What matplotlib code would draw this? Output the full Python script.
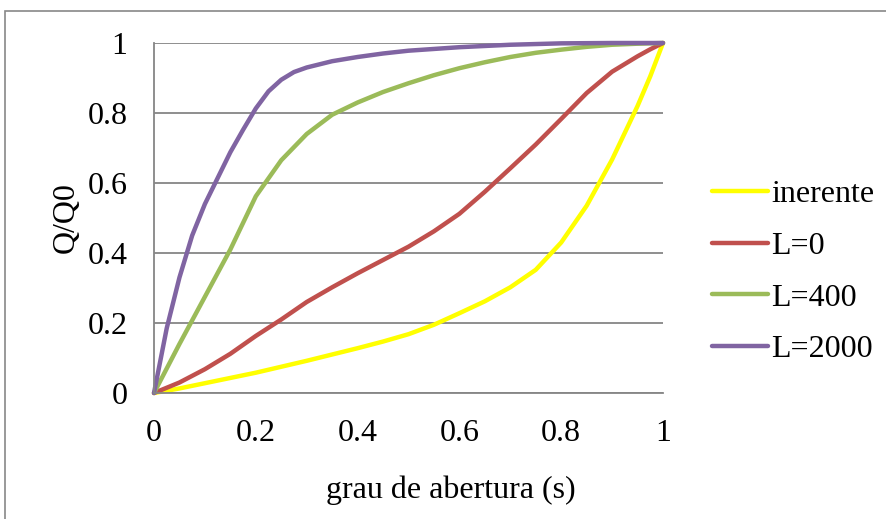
import matplotlib.pyplot as plt
from matplotlib.patches import Rectangle

plt.rcParams['font.family'] = ['Liberation Serif', 'DejaVu Serif']

# valve opening and relative flow
s_main = [0, 0.05, 0.1, 0.15, 0.2, 0.25, 0.3, 0.35, 0.4, 0.45, 0.5,
          0.55, 0.6, 0.65, 0.7, 0.75, 0.8, 0.85, 0.9, 0.95, 0.975, 1.0]
q_inerente = [0, 0.013, 0.028, 0.043, 0.058, 0.075, 0.092, 0.11, 0.128, 0.147, 0.168,
              0.195, 0.228, 0.262, 0.302, 0.352, 0.43, 0.535, 0.667, 0.82, 0.905, 1.0]
q_L0 = [0, 0.03, 0.068, 0.112, 0.163, 0.21, 0.26, 0.302, 0.342, 0.38, 0.418,
        0.462, 0.512, 0.575, 0.642, 0.71, 0.783, 0.857, 0.918, 0.962, 0.982, 1.0]
q_L400 = [0, 0.14, 0.275, 0.41, 0.562, 0.665, 0.74, 0.795, 0.83, 0.86, 0.885,
          0.908, 0.928, 0.945, 0.96, 0.972, 0.981, 0.989, 0.995, 0.998, 0.999, 1.0]
s_L2000 = [0, 0.025, 0.05, 0.075, 0.1, 0.125, 0.15, 0.175, 0.2, 0.225, 0.25, 0.275,
           0.3, 0.35, 0.4, 0.45, 0.5, 0.6, 0.7, 0.8, 0.9, 1.0]
q_L2000 = [0, 0.185, 0.33, 0.45, 0.54, 0.614, 0.688, 0.752, 0.813, 0.862, 0.895, 0.917,
           0.93, 0.948, 0.96, 0.97, 0.978, 0.988, 0.995, 0.999, 1.0, 1.0]

labels = ['inerente', 'L=0', 'L=400', 'L=2000']
colors = ['#FFFF00', '#C0504D', '#9BBB59', '#8064A2']
grid_col = '#868686'
fs = 23

fig = plt.figure(figsize=(8.87, 5.19), dpi=100)
ax = fig.add_axes([154 / 887, 1 - 393 / 519, (663 - 154) / 887, (393 - 43) / 519])

series = [(s_main, q_inerente), (s_main, q_L0), (s_main, q_L400), (s_L2000, q_L2000)]
for (xs, ys), lab, c in zip(series, labels, colors):
    ax.plot(xs, ys, color=c, lw=3.2, label=lab, solid_joinstyle='round',
            solid_capstyle='round', clip_on=False)

ax.set_xlim(0, 1)
ax.set_ylim(0, 1)
ax.set_xticks([0, 0.2, 0.4, 0.6, 0.8, 1])
ax.set_xticklabels(['0', '0.2', '0.4', '0.6', '0.8', '1'])
ax.set_yticks([0, 0.2, 0.4, 0.6, 0.8, 1])
ax.set_yticklabels(['0', '0.2', '0.4', '0.6', '0.8', '1'])
ax.tick_params(axis='both', length=0, labelsize=fs)
ax.tick_params(axis='x', pad=19)
ax.tick_params(axis='y', pad=19)
ax.yaxis.grid(True, color=grid_col, lw=1.3)
ax.set_axisbelow(True)
for side in ['top', 'right']:
    ax.spines[side].set_visible(False)
for side in ['left', 'bottom']:
    ax.spines[side].set_color(grid_col)
    ax.spines[side].set_linewidth(1.3)

ax.set_ylabel('Q/Q0', fontsize=fs, labelpad=5)
fig.text(451 / 887, 1 - 490 / 519, 'grau de abertura (s)', fontsize=fs,
         ha='center', va='center')

fig.legend(loc='center left', bbox_to_anchor=(699 / 887, 1 - 272 / 519),
           fontsize=fs, frameon=False, handlelength=1.75, handletextpad=0.1,
           labelspacing=0.7, borderaxespad=0)

# chart border
fig.patches.append(Rectangle((5 / 887, -0.1), 1.1, 1 - 11 / 519 + 0.1,
                             transform=fig.transFigure, fill=False,
                             edgecolor='#888888', lw=1.2))

fig.savefig('out.png', dpi=100)
